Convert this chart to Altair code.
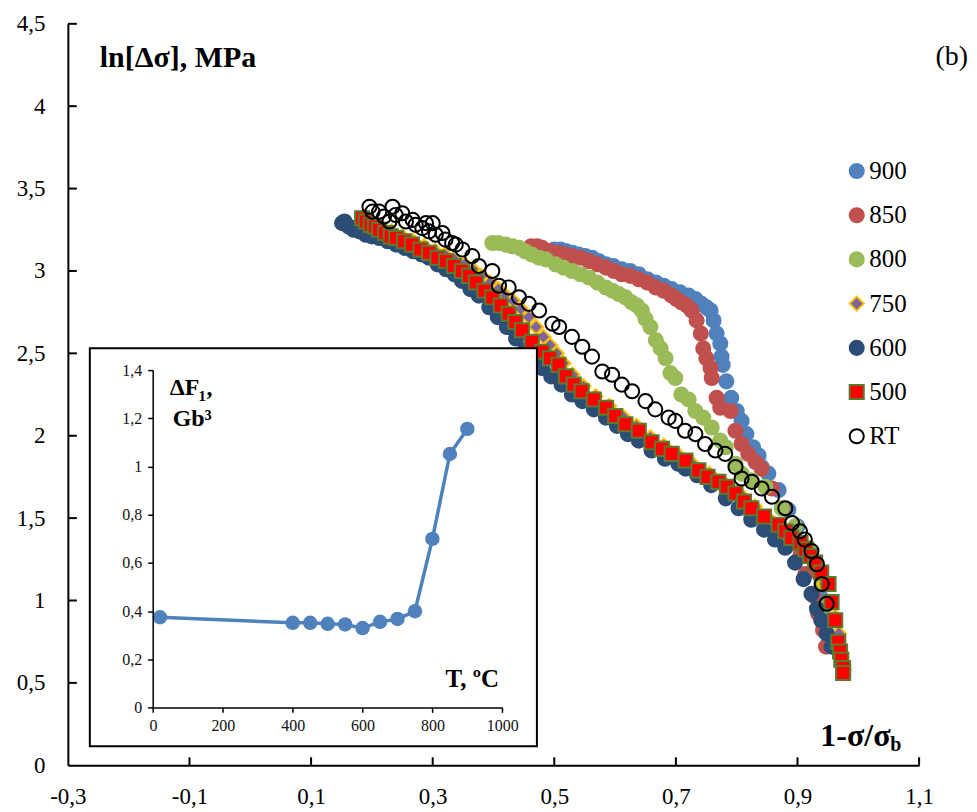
import altair as alt
import pandas as pd

# ---------------- data ----------------
SERIES = ["900", "850", "800", "750", "600", "500", "RT"]
FILL = ["#4F81BD", "#C0504D", "#9BBB59", "#8064A2", "#2C4D75", "#FF0000", "transparent"]
STROKE = ["#4F81BD", "#C0504D", "#9BBB59", "#FFC000", "#2C4D75", "#5E7A30", "#000000"]
SHAPE = ["circle", "circle", "circle", "diamond", "circle", "square", "circle"]
SIZE = [200, 200, 200, 160, 200, 120, 180]

x900 = [0.500, 0.510, 0.520, 0.530, 0.540, 0.551, 0.562, 0.573, 0.585, 0.597, 0.611, 0.625, 0.639,
        0.653, 0.667, 0.680, 0.693, 0.707, 0.721, 0.732, 0.742, 0.750, 0.757, 0.762, 0.767, 0.773,
        0.775, 0.777, 0.783, 0.791, 0.800, 0.808, 0.816, 0.827, 0.836, 0.841, 0.852, 0.869, 0.885,
        0.900, 0.915, 0.928, 0.938, 0.946, 0.952]
y900 = [3.13, 3.13, 3.12, 3.11, 3.10, 3.09, 3.08, 3.06, 3.04, 3.03, 3.01, 3.00, 2.98,
        2.95, 2.93, 2.91, 2.89, 2.87, 2.85, 2.83, 2.80, 2.78, 2.76, 2.70, 2.62, 2.56,
        2.48, 2.43, 2.33, 2.23, 2.15, 2.09, 2.01, 1.93, 1.88, 1.81, 1.77, 1.67, 1.55,
        1.45, 1.32, 1.18, 1.02, 0.88, 0.78]

x850 = [0.462, 0.472, 0.480, 0.493, 0.507, 0.518, 0.529, 0.543, 0.557, 0.571, 0.585, 0.598, 0.611,
        0.625, 0.639, 0.653, 0.667, 0.680, 0.693, 0.701, 0.709, 0.718, 0.726, 0.734, 0.741, 0.745,
        0.750, 0.757, 0.759, 0.767, 0.773, 0.790, 0.798, 0.808, 0.819, 0.831, 0.841, 0.858, 0.875,
        0.893, 0.905, 0.913, 0.926, 0.934, 0.942, 0.947]
y850 = [3.15, 3.15, 3.14, 3.12, 3.11, 3.10, 3.09, 3.08, 3.06, 3.04, 3.02, 3.00, 2.98,
        2.97, 2.95, 2.93, 2.90, 2.88, 2.85, 2.83, 2.81, 2.79, 2.76, 2.70, 2.62, 2.53,
        2.47, 2.41, 2.35, 2.23, 2.17, 2.15, 2.03, 1.95, 1.89, 1.84, 1.80, 1.68, 1.56,
        1.42, 1.28, 1.16, 1.03, 0.92, 0.82, 0.72]

x800 = [0.398, 0.408, 0.420, 0.431, 0.442, 0.452, 0.463, 0.475, 0.486, 0.502, 0.515, 0.529, 0.543,
        0.557, 0.571, 0.585, 0.596, 0.606, 0.617, 0.627, 0.636, 0.644, 0.650, 0.658, 0.667, 0.675,
        0.683, 0.691, 0.699, 0.709, 0.721, 0.732, 0.745, 0.759, 0.773, 0.782, 0.798, 0.808, 0.824,
        0.847, 0.874, 0.896, 0.918, 0.931, 0.939, 0.946]
y800 = [3.17, 3.17, 3.16, 3.15, 3.14, 3.12, 3.10, 3.08, 3.07, 3.04, 3.02, 3.00, 2.98,
        2.96, 2.93, 2.90, 2.88, 2.86, 2.84, 2.81, 2.79, 2.76, 2.71, 2.66, 2.58, 2.53,
        2.47, 2.38, 2.35, 2.25, 2.22, 2.15, 2.11, 2.05, 1.97, 1.93, 1.83, 1.77, 1.73,
        1.69, 1.56, 1.45, 1.32, 1.23, 1.10, 0.97]

x750 = [0.186, 0.200, 0.215, 0.232, 0.250, 0.268, 0.286, 0.304, 0.320, 0.336, 0.352, 0.366, 0.380,
        0.394, 0.408, 0.420, 0.432, 0.445, 0.458, 0.470, 0.482, 0.493, 0.504, 0.515, 0.530, 0.548,
        0.568, 0.590, 0.612, 0.635, 0.658, 0.680, 0.705, 0.730, 0.755, 0.780, 0.805, 0.830, 0.852,
        0.875, 0.898, 0.916, 0.932, 0.945, 0.955, 0.962, 0.968, 0.972, 0.976]
y750 = [3.33, 3.30, 3.27, 3.24, 3.21, 3.18, 3.15, 3.12, 3.10, 3.07, 3.04, 3.01, 2.97,
        2.93, 2.89, 2.85, 2.82, 2.77, 2.72, 2.66, 2.60, 2.55, 2.50, 2.44, 2.37, 2.30,
        2.24, 2.18, 2.12, 2.06, 1.99, 1.94, 1.88, 1.82, 1.77, 1.71, 1.65, 1.57, 1.50,
        1.44, 1.37, 1.30, 1.21, 1.10, 0.98, 0.90, 0.80, 0.68, 0.58]

x600 = [0.151, 0.155, 0.162, 0.170, 0.180, 0.190, 0.200, 0.212, 0.226, 0.240, 0.254, 0.268, 0.282,
        0.294, 0.308, 0.322, 0.336, 0.348, 0.362, 0.376, 0.393, 0.407, 0.422, 0.437, 0.452, 0.466,
        0.480, 0.495, 0.512, 0.529, 0.546, 0.565, 0.585, 0.603, 0.621, 0.639, 0.660, 0.682, 0.704,
        0.716, 0.735, 0.758, 0.782, 0.803, 0.824, 0.845, 0.863, 0.880, 0.896, 0.910, 0.923, 0.932,
        0.939, 0.948, 0.956]
y600 = [3.29, 3.30, 3.27, 3.25, 3.24, 3.22, 3.21, 3.20, 3.18, 3.16, 3.14, 3.12, 3.10,
        3.08, 3.04, 3.01, 2.98, 2.94, 2.89, 2.85, 2.78, 2.72, 2.66, 2.59, 2.52, 2.46,
        2.41, 2.36, 2.31, 2.25, 2.21, 2.16, 2.11, 2.06, 2.01, 1.97, 1.91, 1.86, 1.83,
        1.80, 1.76, 1.70, 1.62, 1.56, 1.49, 1.43, 1.37, 1.32, 1.23, 1.13, 1.04, 0.95,
        0.88, 0.80, 0.72]

x500 = [0.184, 0.190, 0.198, 0.205, 0.212, 0.222, 0.231, 0.240, 0.253, 0.266, 0.280, 0.294, 0.308,
        0.322, 0.335, 0.348, 0.360, 0.371, 0.385, 0.398, 0.412, 0.425, 0.436, 0.447, 0.463, 0.480,
        0.493, 0.507, 0.519, 0.532, 0.545, 0.565, 0.585, 0.600, 0.617, 0.639, 0.660, 0.677, 0.693,
        0.716, 0.737, 0.752, 0.770, 0.784, 0.798, 0.812, 0.824, 0.845, 0.869, 0.880, 0.890, 0.905,
        0.913, 0.921, 0.929, 0.939, 0.951, 0.956, 0.962, 0.967, 0.970, 0.972, 0.975, 0.975]
y500 = [3.32, 3.30, 3.28, 3.27, 3.25, 3.23, 3.21, 3.20, 3.18, 3.16, 3.13, 3.11, 3.08,
        3.06, 3.03, 3.00, 2.97, 2.93, 2.88, 2.84, 2.79, 2.74, 2.69, 2.64, 2.57, 2.51,
        2.47, 2.43, 2.36, 2.31, 2.27, 2.22, 2.17, 2.12, 2.07, 2.03, 1.96, 1.92, 1.89,
        1.85, 1.79, 1.75, 1.72, 1.69, 1.65, 1.60, 1.56, 1.51, 1.46, 1.42, 1.38, 1.35,
        1.31, 1.27, 1.23, 1.17, 1.10, 0.99, 0.88, 0.75, 0.69, 0.64, 0.59, 0.56]

xRT = [0.196, 0.201, 0.212, 0.220, 0.234, 0.239, 0.229, 0.250, 0.256, 0.267, 0.272, 0.283, 0.289,
       0.300, 0.294, 0.305, 0.316, 0.321, 0.332, 0.338, 0.349, 0.365, 0.376, 0.398, 0.409, 0.425,
       0.442, 0.458, 0.475, 0.497, 0.508, 0.529, 0.546, 0.562, 0.579, 0.595, 0.611, 0.628, 0.650,
       0.666, 0.688, 0.699, 0.715, 0.732, 0.748, 0.765, 0.781, 0.798, 0.808, 0.825, 0.841, 0.858,
       0.880, 0.891, 0.904, 0.912, 0.923, 0.932, 0.940, 0.948]
yRT = [3.39, 3.36, 3.36, 3.33, 3.39, 3.34, 3.30, 3.35, 3.30, 3.31, 3.28, 3.26, 3.29,
       3.29, 3.24, 3.22, 3.23, 3.19, 3.17, 3.16, 3.13, 3.09, 3.03, 3.00, 2.91, 2.90,
       2.84, 2.80, 2.76, 2.68, 2.66, 2.60, 2.54, 2.48, 2.39, 2.37, 2.31, 2.27, 2.21,
       2.16, 2.11, 2.09, 2.03, 2.01, 1.95, 1.91, 1.89, 1.81, 1.74, 1.72, 1.68, 1.63,
       1.56, 1.47, 1.42, 1.37, 1.30, 1.22, 1.10, 0.98]

X_TICKS = [-0.3, -0.1, 0.1, 0.3, 0.5, 0.7, 0.9, 1.1]
Y_TICKS = [0, 0.5, 1, 1.5, 2, 2.5, 3, 3.5, 4, 4.5]

# inset: dF1 vs T
inset_T = [20, 400, 450, 500, 550, 600, 650, 700, 750, 800, 850, 900]
inset_F = [0.375, 0.352, 0.352, 0.348, 0.345, 0.330, 0.356, 0.368, 0.400, 0.700, 1.052, 1.156]
INSET_X_TICKS = [0, 200, 400, 600, 800, 1000]
INSET_Y_TICKS = [0, 0.2, 0.4, 0.6, 0.8, 1, 1.2, 1.4]

# ---------------- frames ----------------
xs_all = [x900, x850, x800, x750, x600, x500, xRT]
ys_all = [y900, y850, y800, y750, y600, y500, yRT]
rows = []
for name, xs, ys in zip(SERIES, xs_all, ys_all):
    for a, b in zip(xs, ys):
        rows.append({"series": name, "x": a, "y": b})
df = pd.DataFrame(rows)
dfi = pd.DataFrame({"T": inset_T, "F": inset_F})
one = pd.DataFrame({"a": [0]})

FONT = "Liberation Serif"
comma = "replace(toString(datum.value), '.', ',')"


def xsc():
    return alt.Scale(domain=[-0.3, 1.1], nice=False, zero=False)


def ysc():
    return alt.Scale(domain=[0, 4.5], nice=False, zero=False)


leg = alt.Legend(orient="none", legendX=778, legendY=135, title=None,
                 labelFont=FONT, labelFontSize=25, labelColor="black",
                 rowPadding=18.3, labelOffset=0, symbolStrokeWidth=2, padding=0)

points = alt.Chart(df).mark_point(filled=True, opacity=1, strokeWidth=2).encode(
    x=alt.X("x:Q", scale=xsc(), axis=alt.Axis(
        orient="bottom", values=X_TICKS, labelExpr=comma, ticks=False, tickSize=0, grid=False,
        title=None, domainColor="black", domainWidth=2, labelFont=FONT, labelFontSize=23,
        labelColor="black", labelPadding=20, labelFlush=False, labelOverlap=False, zindex=1)),
    y=alt.Y("y:Q", scale=ysc(), axis=alt.Axis(
        orient="left", values=Y_TICKS, labelExpr=comma, ticks=False, tickSize=0, grid=False,
        title=None, domainColor="black", domainWidth=2, labelFont=FONT, labelFontSize=23,
        labelColor="black", labelPadding=23, labelOverlap=False, zindex=1)),
    fill=alt.Fill("series:N", scale=alt.Scale(domain=SERIES, range=FILL), legend=leg),
    stroke=alt.Stroke("series:N", scale=alt.Scale(domain=SERIES, range=STROKE), legend=leg),
    shape=alt.Shape("series:N", scale=alt.Scale(domain=SERIES, range=SHAPE), legend=leg),
    size=alt.Size("series:N", scale=alt.Scale(domain=SERIES, range=SIZE), legend=leg),
)

ytick = alt.Chart(pd.DataFrame({"v": Y_TICKS[1:]})).mark_rule(color="black", strokeWidth=2).encode(
    y=alt.Y("v:Q", scale=ysc(), axis=None), x=alt.value(0), x2=alt.value(9))
xtick = alt.Chart(pd.DataFrame({"v": X_TICKS[1:]})).mark_rule(color="black", strokeWidth=2).encode(
    x=alt.X("v:Q", scale=xsc(), axis=None), y=alt.value(743), y2=alt.value(735))

# ---------------- inset ----------------


def ixs():
    return alt.Scale(domain=[0, 1000], range=[85.3, 435.3], nice=False, zero=False)


def iys():
    return alt.Scale(domain=[0, 1.4], range=[685.3, 347], nice=False, zero=False)


box = alt.Chart(one).mark_rect(fill="white", stroke="black", strokeWidth=2).encode(
    x=alt.value(22), x2=alt.value(470), y=alt.value(325), y2=alt.value(724))

iline = alt.Chart(dfi).mark_line(color="#4F81BD", strokeWidth=3.5).encode(
    x=alt.X("T:Q", scale=ixs(), axis=alt.Axis(
        orient="bottom", offset=-58, values=INSET_X_TICKS, labelExpr="toString(datum.value)",
        grid=False, title=None, domainColor="black", domainWidth=1.5, tickColor="black",
        tickWidth=1.5, tickSize=5, labelFont=FONT, labelFontSize=16, labelColor="#111111",
        labelPadding=5, labelFlush=False, labelOverlap=False, zindex=2)),
    y=alt.Y("F:Q", scale=iys(), axis=alt.Axis(
        orient="left", offset=-85, values=INSET_Y_TICKS, labelExpr=comma, grid=False, title=None,
        domainColor="black", domainWidth=1.5, tickColor="black", tickWidth=1.5, tickSize=5,
        labelFont=FONT, labelFontSize=16, labelColor="#111111", labelPadding=6,
        labelOverlap=False, zindex=2)),
)
ipts = alt.Chart(dfi).mark_circle(color="#4F81BD", size=210, opacity=1).encode(
    x=alt.X("T:Q", scale=ixs(), axis=None), y=alt.Y("F:Q", scale=iys(), axis=None))


def txt(s, x, y, size, bold=True, align="left"):
    return alt.Chart(one).mark_text(
        text=s, font=FONT, fontSize=size, fontWeight="bold" if bold else "normal",
        align=align, baseline="alphabetic", color="black").encode(
        x=alt.value(x), y=alt.value(y))


texts = [
    txt("ΔF", 102, 372, 24),
    txt("1", 131, 378, 15),
    txt(",", 139, 372, 24),
    txt("Gb³", 105, 403, 24),
    txt("T, ºC", 432, 665, 25, align="right"),
    txt("ln[Δσ], MPa", 32, 43, 30),
    txt("(b)", 902, 41, 28, bold=False, align="right"),
    txt("1-σ/σ", 754, 724, 32),
    txt("b", 824, 729, 20),
]

chart = alt.layer(points, ytick, xtick, box, iline, ipts, *texts).resolve_scale(
    x="independent", y="independent").properties(
    width=853, height=743,
    padding={"left": 60, "top": 15, "right": 50, "bottom": 46},
    autosize=alt.AutoSizeParams(type="none"),
).configure_view(stroke=None)

chart.save("out.html", embed_options={"renderer": "svg", "actions": False})
